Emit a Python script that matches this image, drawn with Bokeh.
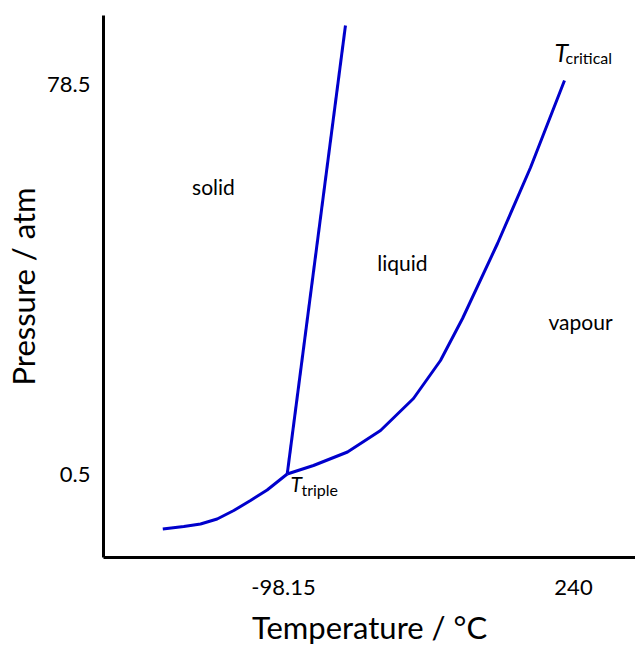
from bokeh.plotting import figure
from bokeh.models import FixedTicker, Range1d
from bokeh.core.properties import value
from bokeh.embed import file_html
from bokeh.resources import INLINE

# ---- data ----
x_ticks = [-98.15, 240]
y_ticks = [0.5, 78.5]

sub_T = [-238.9, -214.4, -194.9, -175.5, -156.1, -136.6, -117.2, -93.8]
sub_P = [-10.4, -9.9, -9.4, -8.4, -6.7, -4.7, -2.6, 0.6]

melt_T = [-93.8, -25.9]
melt_P = [0.6, 90.3]

vap_T = [-93.8, -63.2, -23.5, 15.0, 53.4, 84.9, 110.6, 151.4, 189.9, 229.5]
vap_P = [0.6, 2.3, 5.0, 9.3, 15.7, 23.3, 31.7, 46.7, 61.9, 79.3]

region_labels = ["solid", "liquid", "vapour"]
region_T = [-179.8, 40.6, 248.2]
region_P = [58.1, 42.9, 31.1]

point_main = ["T", "T"]
point_main_T = [-89.99, 217.8]
point_main_P = [-1.24, 84.96]
point_main_size = ["21px", "25px"]
point_sub = ["triple", "critical"]
point_sub_T = [-77.2, 230.7]
point_sub_P = [-2.5, 83.96]

FONT = "Lato"
LINE = "#0000cc"

p = figure(width=635, height=653, output_backend="svg", toolbar_location=None,
           x_range=Range1d(-308.03, 312.29), y_range=Range1d(-16.1, 92.3),
           min_border_left=103, min_border_right=0, min_border_top=15, min_border_bottom=96)
p.outline_line_color = None
p.grid.visible = False
p.background_fill_color = "white"
p.border_fill_color = "white"

for ax in (p.xaxis[0], p.yaxis[0]):
    ax.axis_line_width = 3
    ax.axis_line_color = "black"
    ax.major_tick_line_color = None
    ax.minor_tick_line_color = None
    ax.major_label_text_font = FONT
    ax.major_label_text_font_size = "22px"
    ax.major_label_text_color = "black"
    ax.axis_label_text_font = FONT
    ax.axis_label_text_font_size = "31px"
    ax.axis_label_text_font_style = "normal"
    ax.axis_label_text_color = "black"

p.xaxis.ticker = FixedTicker(ticks=x_ticks)
p.yaxis.ticker = FixedTicker(ticks=y_ticks)
p.xaxis.major_label_overrides = {-98.15: "-98.15", 240: "240"}
p.yaxis.major_label_overrides = {0.5: "0.5", 78.5: "78.5"}
p.xaxis.axis_label = "Temperature / °C"
p.yaxis.axis_label = "Pressure / atm"
p.xaxis.major_label_standoff = 16
p.xaxis.axis_label_standoff = 10
p.yaxis.major_label_standoff = 7
p.yaxis.axis_label_standoff = 2

p.line(sub_T, sub_P, line_color=LINE, line_width=3)
p.line(melt_T, melt_P, line_color=LINE, line_width=3)
p.line(vap_T, vap_P, line_color=LINE, line_width=3)

p.text(region_T, region_P, text=region_labels, text_font=value(FONT),
       text_font_size="21px", text_align="center", text_baseline="alphabetic",
       text_color="black")

p.text(point_main_T, point_main_P, text=point_main, text_font=value(FONT),
       text_font_size=point_main_size, text_font_style="italic",
       text_align="left", text_baseline="alphabetic", text_color="black")
p.text(point_sub_T, point_sub_P, text=point_sub, text_font=value(FONT),
       text_font_size="16px", text_align="left", text_baseline="alphabetic",
       text_color="black")

open("out.html", "w").write(file_html(p, INLINE))
